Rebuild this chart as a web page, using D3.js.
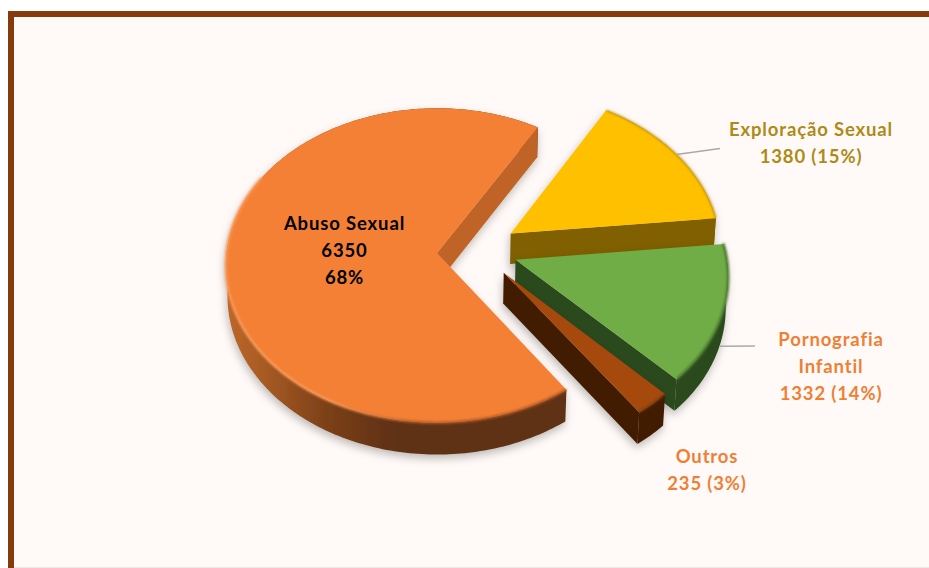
<!DOCTYPE html>
<html lang="pt">
<head>
<meta charset="utf-8">
<title>Violência sexual por tipo</title>
<script src="https://cdn.jsdelivr.net/npm/d3@7/dist/d3.min.js"></script>
<style>
  html, body { margin: 0; padding: 0; background: #fff; }
  svg { display: block; }
  text { font-family: Lato, "Noto Sans", sans-serif; font-weight: 700; text-anchor: middle; letter-spacing: 0.85px; }
</style>
</head>
<body>
<svg id="chart" width="929" height="568"></svg>
<script>
// Notifications per type of violence, in drawing order around the pie.
const categories = ["Exploração Sexual", "Pornografia Infantil", "Outros", "Abuso Sexual"];
const values = [1380, 1332, 235, 6350];

const topColors = ["#FFC000", "#70AD47", "#A5490F", "#F48035"];
const faceColors = ["#806000", "#2C491B", "#421C05", "#C06428"];
const rimColors = ["#806000", "#2C491B", "#421C05", "url(#mainRim)"];
const edgeColors = ["#B58C08", "#4C7A2F", "#7A3A0C", "url(#mainBevel)"];
const labelColors = ["#AE8A17", "#F07F36", "#F07F36", "#000000"];
const paintOrder = [3, 0, 1, 2];

const svg = d3.select("#chart");
const width = 929, height = 568;

// Page panel with its brown frame on the left and top edges.
svg.append("rect").attr("x", 8).attr("y", 11).attr("width", width - 8).attr("height", height - 12)
  .attr("fill", "#FFFAF7");
svg.append("rect").attr("x", 8).attr("y", 11).attr("width", width - 8).attr("height", 6).attr("fill", "#843C0C");
svg.append("rect").attr("x", 8).attr("y", 11).attr("width", 6).attr("height", height - 11).attr("fill", "#843C0C");
svg.append("rect").attr("x", 14).attr("y", height - 1).attr("width", width - 14).attr("height", 1).attr("fill", "#EFE9E6");

const defs = svg.append("defs");
const shadow = defs.append("filter").attr("id", "softShadow")
  .attr("x", "-15%").attr("y", "-15%").attr("width", "130%").attr("height", "130%");
shadow.append("feDropShadow").attr("dx", -1).attr("dy", 4).attr("stdDeviation", 4)
  .attr("flood-color", "#000").attr("flood-opacity", 0.26);
defs.append("filter").attr("id", "edgeBlur").append("feGaussianBlur").attr("stdDeviation", 0.9);

function horizontalGradient(id, x1, x2, stops) {
  const g = defs.append("linearGradient").attr("id", id)
    .attr("gradientUnits", "userSpaceOnUse").attr("x1", x1).attr("x2", x2).attr("y1", 0).attr("y2", 0);
  stops.forEach(([o, c]) => g.append("stop").attr("offset", o).attr("stop-color", c));
}
horizontalGradient("mainRim", 225, 565, [[0, "#BE682A"], [0.12, "#A65A23"], [0.3, "#7C4018"], [0.5, "#5F3013"], [1, "#5F3013"]]);
horizontalGradient("mainBevel", 225, 565, [[0, "#FA9A5A"], [0.3, "#FA9A5A"], [0.55, "#B85E26"], [1, "#A85522"]]);

// Perspective mapping of the tilted disc: plane coordinates (unit radius) plus depth to screen.
const originX = 437, originY = 253;
const spanX = 211, spanY = 156.5, tilt = 0.0794, depth = 31, recede = 0.008;
const radius = 0.998, explosion = 0.192;

function project(X, Y, Z) {
  const w = 1 - tilt * Y + recede * Z;
  return [originX + spanX * X / w, originY + (spanY * Y + depth * Z) / w];
}

const direction = a => [Math.sin(a), -Math.cos(a)];
const rad = d => d * Math.PI / 180;

const startAngle = rad(30.8);
const arcs = d3.pie().sort(null).value(d => d)
  .startAngle(startAngle).endAngle(startAngle + 2 * Math.PI)(values);

// Slices are pulled apart radially, measured from the anchored largest slice.
const anchorDir = direction(rad(263));

function sliceOffset(i) {
  if (i === 3) return [0, 0];
  const mid = (arcs[i].startAngle + arcs[i].endAngle) / 2;
  const d = direction(mid);
  return [explosion * (d[0] - anchorDir[0]), explosion * (d[1] - anchorDir[1])];
}

function rimPoint(i, a, z) {
  const o = sliceOffset(i), d = direction(a);
  return project(o[0] + radius * d[0], o[1] + radius * d[1], z);
}

function rimPoints(i, z, from, to) {
  const a0 = from === undefined ? arcs[i].startAngle : from;
  const a1 = to === undefined ? arcs[i].endAngle : to;
  const n = Math.max(2, Math.ceil((a1 - a0) / rad(1)));
  return d3.range(n + 1).map(k => rimPoint(i, a0 + (a1 - a0) * k / n, z));
}

const line = d3.line();
const closed = pts => line(pts) + "Z";

paintOrder.forEach(i => {
  const g = svg.append("g").attr("filter", "url(#softShadow)");
  const o = sliceOffset(i);
  const apexTop = project(o[0], o[1], 0), apexBottom = project(o[0], o[1], 1);
  const topRim = rimPoints(i, 0), bottomRim = rimPoints(i, 1);
  const last = topRim.length - 1;

  // Curved outer wall.
  g.append("path").attr("d", closed(topRim.concat(bottomRim.slice().reverse()))).attr("fill", rimColors[i]);

  // The clockwise cut face is the one turned toward the viewer on every slice.
  g.append("path").attr("d", closed([apexTop, topRim[last], bottomRim[last], apexBottom])).attr("fill", faceColors[i]);

  // Upper surface.
  g.append("path").attr("d", closed([apexTop].concat(topRim))).attr("fill", topColors[i]);
});

// Soft bevel along the rims of the slices.
const bevels = [
  { i: 3, from: rad(145), to: rad(300), w: 2.4 },
  { i: 0, from: rad(31), to: rad(84), w: 1.4 },
  { i: 1, from: rad(84), to: rad(135.6), w: 2.6 },
  { i: 2, from: rad(136), to: rad(144.8), w: 2 }
];
svg.append("g").attr("filter", "url(#edgeBlur)").selectAll("path").data(bevels).join("path")
  .attr("d", d => line(rimPoints(d.i, 0, d.from, d.to)))
  .attr("fill", "none").attr("stroke", d => edgeColors[d.i]).attr("stroke-width", d => d.w);

// Leader lines from the outlying slices to their labels.
const leaders = [
  { i: 0, z: 0, end: [720, 148.5] },
  { i: 1, z: 1, end: [755, 346] }
];
svg.append("g").selectAll("path").data(leaders).join("path")
  .attr("d", d => {
    const a = (arcs[d.i].startAngle + arcs[d.i].endAngle) / 2;
    return line([rimPoint(d.i, a, d.z), d.end]);
  })
  .attr("fill", "none").attr("stroke", "#A9A9A9").attr("stroke-width", 1.6);

// Data labels.
const total = d3.sum(values);
const pct = v => Math.round(100 * v / total) + "%";
const labels = [
  { i: 3, x: 344.5, y: 230, size: 18.5, lines: ["Abuso Sexual", String(values[3]), pct(values[3])] },
  { i: 0, x: 811, y: 136, size: 18.5, lines: [categories[0], `${values[0]} (${pct(values[0])})`] },
  { i: 1, x: 831, y: 346, size: 18.5, lines: ["Pornografia", "Infantil", `${values[1]} (${pct(values[1])})`] },
  { i: 2, x: 707, y: 463, size: 18.5, lines: [categories[2], `${values[2]} (${pct(values[2])})`] }
];
labels.forEach(l => {
  const t = svg.append("text").attr("fill", labelColors[l.i]).attr("font-size", l.size);
  l.lines.forEach((s, k) => {
    t.append("tspan").attr("x", l.x).attr("y", l.y + k * 26.8).text(s);
  });
});
</script>
</body>
</html>
